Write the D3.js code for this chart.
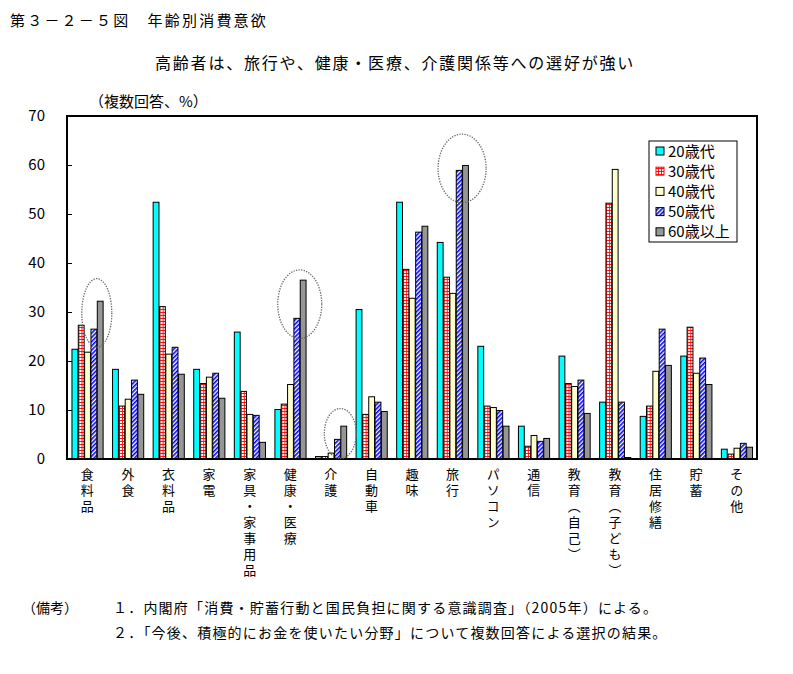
<!DOCTYPE html>
<html><head><meta charset="utf-8">
<script src="https://cdn.jsdelivr.net/npm/d3@7"></script>
<style>
body{margin:0;background:#fff;}
text{font-family:"Noto Sans CJK JP","Noto Sans",sans-serif;fill:#000;}
.xlab{writing-mode:vertical-rl;text-orientation:upright;}
</style></head>
<body><svg id="c" width="793" height="674"></svg>
<script>
const categories = ["食料品","外食","衣料品","家電","家具・家事用品","健康・医療","介護","自動車","趣味","旅行","パソコン","通信","教育（自己）","教育（子ども）","住居修繕","貯蓄","その他"];
const seriesNames = ["20歳代","30歳代","40歳代","50歳代","60歳以上"];
const v20 = [22.4,18.3,52.4,18.3,25.9,10.1,0.5,30.5,52.4,44.2,23.0,6.7,21.0,11.6,8.7,21.0,2.0];
const v30 = [27.3,10.8,31.1,15.4,13.8,11.2,0.5,9.1,38.7,37.1,10.8,2.6,15.4,52.2,10.8,26.9,1.0];
const v40 = [21.8,12.2,21.4,16.7,9.1,15.2,1.2,12.7,32.8,33.8,10.5,4.8,14.8,59.1,17.9,17.5,2.2];
const v50 = [26.5,16.1,22.8,17.5,8.9,28.7,4.0,11.6,46.3,58.9,9.9,3.6,16.1,11.6,26.5,20.6,3.2];
const v60 = [32.2,13.2,17.3,12.4,3.4,36.5,6.7,9.7,47.5,59.9,6.7,4.2,9.3,0.3,19.1,15.2,2.4];
const yTicks = [0,10,20,30,40,50,60,70];
// highlighted groups (category, centre value, half-height value)
const highlights = [
  {cat:"食料品", center:29.8, half:7.0, rx:15},
  {cat:"健康・医療", center:31.6, half:7.0, rx:22},
  {cat:"介護", center:5.2, half:5.1, rx:16},
  {cat:"旅行", center:59.3, half:7.0, rx:24}
];
const title = "第３－２－５図　年齢別消費意欲";
const subtitle = "高齢者は、旅行や、健康・医療、介護関係等への選好が強い";
const yLabel = "（複数回答、%）";
const noteHead = "（備考）";
const notes = ["１．内閣府「消費・貯蓄行動と国民負担に関する意識調査」（2005年）による。",
               "２．「今後、積極的にお金を使いたい分野」について複数回答による選択の結果。"];

const seriesVals = [v20,v30,v40,v50,v60];
const svg = d3.select("#c");
const defs = svg.append("defs");
// patterns
const p30 = defs.append("pattern").attr("id","p30").attr("patternUnits","userSpaceOnUse").attr("width",3).attr("height",3);
p30.append("rect").attr("width",3).attr("height",3).attr("fill","#fff");
p30.append("rect").attr("x",1).attr("y",0).attr("width",0.9).attr("height",3).attr("fill","#ff0000");
p30.append("rect").attr("x",0).attr("y",0).attr("width",3).attr("height",0.9).attr("fill","#ff0000");
const p50 = defs.append("pattern").attr("id","p50").attr("patternUnits","userSpaceOnUse").attr("width",3).attr("height",3).attr("patternTransform","rotate(45)");
p50.append("rect").attr("width",3).attr("height",3).attr("fill","#fff");
p50.append("rect").attr("width",1.6).attr("height",3).attr("fill","#0000ff");

const fills = ["#00ffff","url(#p30)","#ffffcc","url(#p50)","#969696"];

const L=67, R=757, T=116, B=459;
const x0 = d3.scaleBand().domain(categories).range([L,R]).paddingInner(0.22).paddingOuter(0.11);
const x1 = d3.scaleBand().domain(seriesNames).range([0,x0.bandwidth()]);
const y = d3.scaleLinear().domain([0,70]).range([B,T]);

// title
svg.append("text").attr("x",10).attr("y",26).attr("font-size",15).attr("letter-spacing",2.2).text(title);
svg.append("text").attr("x",155).attr("y",69).attr("font-size",16).attr("letter-spacing",1.8).text(subtitle);
svg.append("text").attr("x",89).attr("y",107).attr("font-size",15).text(yLabel);

// bars
const g = svg.append("g");
categories.forEach((c,i)=>{
  const gg = g.append("g").attr("transform",`translate(${x0(c)},0)`);
  seriesNames.forEach((s,k)=>{
    const v = seriesVals[k][i];
    gg.append("rect").attr("x",x1(s)+0.5).attr("y",y(v)).attr("width",x1.bandwidth()-0.5)
      .attr("height",y(0)-y(v)).attr("fill",fills[k]).attr("stroke","#000").attr("stroke-width",1);
  });
});

// frame
svg.append("rect").attr("x",L).attr("y",T).attr("width",R-L).attr("height",B-T)
  .attr("fill","none").attr("stroke","#000").attr("stroke-width",2);

// y axis
const ya = svg.append("g").attr("transform",`translate(${L},0)`)
  .call(d3.axisLeft(y).tickValues(yTicks).tickSize(-5).tickPadding(22));
ya.select(".domain").remove();
ya.selectAll("line").attr("stroke","#000").attr("stroke-width",1);
ya.selectAll("text").attr("font-size",15).attr("font-family","'Liberation Sans',sans-serif");

// x labels (vertical writing)
categories.forEach(c=>{
  const cx = x0(c)+x0.bandwidth()/2;
  svg.append("text").attr("class","xlab").attr("x",cx).attr("y",468)
    .attr("font-size",13).attr("letter-spacing",3).text(c);
});

// highlight ellipses
highlights.forEach(h=>{
  const cx = x0(h.cat)+x1("50歳代")+x1.bandwidth();
  svg.append("ellipse").attr("cx",cx).attr("cy",y(h.center)).attr("rx",h.rx)
    .attr("ry",y(0)-y(h.half)).attr("fill","none").attr("stroke","#666")
    .attr("stroke-width",1.3).attr("stroke-dasharray","1.3,1.3");
});

// legend
const lg = svg.append("g");
lg.append("rect").attr("x",649).attr("y",141).attr("width",88).attr("height",101)
  .attr("fill","#fff").attr("stroke","#000").attr("stroke-width",1);
seriesNames.forEach((s,k)=>{
  const cy = 151+20.2*k;
  lg.append("rect").attr("x",656).attr("y",cy-4).attr("width",8).attr("height",8)
    .attr("fill",fills[k]).attr("stroke",k===1?"#ff0000":"#000").attr("stroke-width",1);
  lg.append("text").attr("x",668).attr("y",cy+5.5).attr("font-size",15).text(s);
});

// notes
svg.append("text").attr("x",22).attr("y",613).attr("font-size",14).text(noteHead);
notes.forEach((n,i)=>{
  svg.append("text").attr("x",113).attr("y",613+25*i).attr("font-size",14).attr("letter-spacing",1.2).text(n);
});
</script></body></html>
